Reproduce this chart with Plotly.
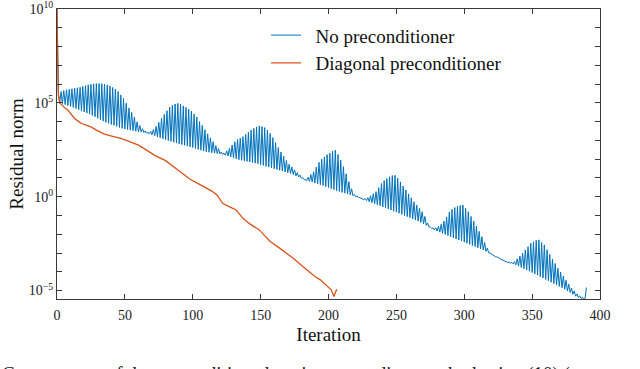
import plotly.graph_objects as go

# ---- data (log10 of residual norm) ----
# No preconditioner: even iterations 0,2,...,388
blue_log_even = [
    10.0, 5.0, 4.96, 4.91, 4.86, 4.81, 4.76, 4.7, 4.64, 4.58,
    4.52, 4.46, 4.4, 4.33, 4.26, 4.18, 4.1, 4.03, 3.96, 3.91,
    3.85, 3.8, 3.75, 3.69, 3.64, 3.61, 3.58, 3.55, 3.52, 3.49,
    3.46, 3.44, 3.42, 3.39, 3.36, 3.3, 3.25, 3.19, 3.14, 3.09,
    3.04, 2.99, 2.95, 2.9, 2.86, 2.82, 2.78, 2.74, 2.7, 2.66,
    2.62, 2.57, 2.52, 2.48, 2.43, 2.39, 2.37, 2.34, 2.32, 2.3,
    2.28, 2.26, 2.21, 2.17, 2.12, 2.07, 2.02, 1.97, 1.94, 1.91,
    1.88, 1.85, 1.82, 1.79, 1.76, 1.71, 1.67, 1.62, 1.58, 1.53,
    1.49, 1.45, 1.41, 1.37, 1.32, 1.28, 1.24, 1.18, 1.11, 1.05,
    0.98, 0.92, 0.87, 0.82, 0.78, 0.73, 0.69, 0.64, 0.6, 0.54,
    0.49, 0.43, 0.38, 0.32, 0.28, 0.23, 0.19, 0.14, 0.1, 0.05,
    0.0, -0.05, -0.09, -0.15, -0.21, -0.27, -0.32, -0.38, -0.43, -0.48,
    -0.54, -0.59, -0.65, -0.71, -0.77, -0.82, -0.88, -0.94, -1.0, -1.06,
    -1.12, -1.18, -1.24, -1.3, -1.37, -1.45, -1.53, -1.61, -1.69, -1.77,
    -1.83, -1.89, -1.95, -2.01, -2.07, -2.13, -2.19, -2.25, -2.31, -2.36,
    -2.42, -2.48, -2.54, -2.6, -2.66, -2.72, -2.78, -2.84, -2.91, -2.99,
    -3.06, -3.13, -3.21, -3.28, -3.36, -3.44, -3.5, -3.54, -3.58, -3.63,
    -3.7, -3.77, -3.84, -3.9, -3.97, -4.04, -4.11, -4.18, -4.26, -4.33,
    -4.41, -4.48, -4.56, -4.63, -4.71, -4.78, -4.85, -4.93, -5.02, -5.1,
    -5.2, -5.3, -5.37, -5.42, -5.46,
]
# No preconditioner: odd iterations 1,3,...,389
blue_log_odd = [
    5.55, 5.6, 5.65, 5.7, 5.72, 5.75, 5.78, 5.8, 5.83, 5.87,
    5.92, 5.96, 5.99, 6.01, 6.03, 6.03, 6.02, 6.0, 5.96, 5.9,
    5.82, 5.73, 5.6, 5.42, 5.23, 4.98, 4.73, 4.49, 4.24, 3.99,
    3.8, 3.62, 3.5, 3.42, 3.48, 3.58, 3.75, 3.96, 4.17, 4.38,
    4.58, 4.77, 4.87, 4.94, 4.97, 4.93, 4.84, 4.76, 4.66, 4.55,
    4.4, 4.24, 4.0, 3.8, 3.57, 3.35, 3.14, 2.93, 2.72, 2.56,
    2.38, 2.32, 2.44, 2.57, 2.75, 2.93, 3.05, 3.12, 3.2, 3.32,
    3.44, 3.55, 3.64, 3.72, 3.77, 3.74, 3.68, 3.55, 3.37, 3.15,
    2.88, 2.62, 2.38, 2.15, 1.93, 1.73, 1.58, 1.43, 1.28, 1.15,
    1.01, 0.9, 1.03, 1.18, 1.33, 1.58, 1.83, 2.0, 2.12, 2.24,
    2.32, 2.42, 2.48, 2.25, 1.95, 1.6, 1.22, 0.8, 0.42, 0.12,
    0.04, -0.05, -0.1, -0.1, -0.05, 0.05, 0.16, 0.27, 0.48, 0.7,
    0.86, 0.97, 1.06, 1.13, 1.14, 0.98, 0.79, 0.57, 0.36, 0.15,
    -0.06, -0.27, -0.45, -0.62, -0.8, -1.05, -1.4, -1.62, -1.67, -1.66,
    -1.58, -1.47, -1.3, -1.08, -0.82, -0.68, -0.58, -0.52, -0.47, -0.44,
    -0.62, -0.8, -1.05, -1.3, -1.56, -1.85, -2.13, -2.44, -2.74, -3.0,
    -3.12, -3.2, -3.27, -3.33, -3.4, -3.45, -3.48, -3.5, -3.46, -3.31,
    -3.16, -3.01, -2.84, -2.66, -2.48, -2.4, -2.32, -2.3, -2.44, -2.57,
    -2.82, -3.07, -3.32, -3.56, -3.81, -4.02, -4.23, -4.45, -4.66, -4.87,
    -5.02, -5.18, -5.28, -5.36, -5.42,
]
blue_last_iter = 390
blue_last_log = -4.84

# Diagonal preconditioner
orange_iter = [0, 1, 2, 4, 6, 8, 10, 13, 16, 18, 22, 25, 29, 35, 41, 47, 53, 60, 66,
               72, 80, 86, 90, 95, 98, 104, 110, 114, 118, 122, 126, 132, 137, 142,
               149, 157, 164, 170, 174, 180, 184, 190, 194, 198, 202, 204, 206]
orange_log = [10, 5.4, 5.0, 4.85, 4.72, 4.61, 4.45, 4.17, 4.0, 3.9, 3.8, 3.72, 3.55,
              3.33, 3.22, 3.11, 2.95, 2.75, 2.48, 2.2, 1.92, 1.6, 1.35, 1.08, 0.93,
              0.7, 0.45, 0.3, 0.08, -0.35, -0.5, -0.71, -1.15, -1.45, -1.77, -2.39,
              -2.74, -3.06, -3.28, -3.65, -3.9, -4.25, -4.43, -4.7, -4.96, -5.32, -4.93]

series_names = ["No preconditioner", "Diagonal preconditioner"]
x_ticks = [0, 50, 100, 150, 200, 250, 300, 350, 400]
y_decades = list(range(-5, 11))
y_labeled = {-5: "10<sup>\u22125</sup>", 0: "10<sup>0</sup>", 5: "10<sup>5</sup>", 10: "10<sup>10</sup>"}
caption = "Convergence of the preconditioned conjugate gradient method using (10) ("

# ---- build blue series by interleaving even/odd iterations ----
blue_iter, blue_log = [], []
for k in range(len(blue_log_even)):
    blue_iter.append(2 * k)
    blue_log.append(blue_log_even[k])
    if k < len(blue_log_odd):
        blue_iter.append(2 * k + 1)
        blue_log.append(blue_log_odd[k])
blue_iter.append(blue_last_iter)
blue_log.append(blue_last_log)

blue_val = [10 ** v for v in blue_log]
orange_val = [10 ** v for v in orange_log]

FONT = "Liberation Serif"
AXC = "#3a3a3a"
PAD = "\u00a0\u00a0"

fig = go.Figure()
fig.add_trace(go.Scatter(x=blue_iter, y=blue_val, mode="lines", name=PAD + series_names[0],
                         line=dict(color="#0072BD", width=1)))
fig.add_trace(go.Scatter(x=orange_iter, y=orange_val, mode="lines", name=PAD + series_names[1],
                         line=dict(color="#D95319", width=1.3)))

fig.update_layout(
    width=640, height=369,
    margin=dict(l=57, r=40, t=9, b=70, autoexpand=False),
    paper_bgcolor="white", plot_bgcolor="white",
    font=dict(family=FONT, color="#222222"),
    showlegend=True,
    legend=dict(x=0.385, y=0.975, xanchor="left", yanchor="top",
                bgcolor="rgba(0,0,0,0)", borderwidth=0,
                font=dict(family=FONT, size=19, color="#111111"),
                itemwidth=30, tracegroupgap=0),
    xaxis=dict(range=[0, 400], tickvals=x_ticks, ticks="inside", ticklen=5,
               tickcolor=AXC, showline=True, linecolor=AXC, linewidth=1, mirror="ticks",
               showgrid=False, zeroline=False, ticklabelstandoff=3,
               ticklabeloverflow="allow", automargin=False,
               tickfont=dict(family=FONT, size=14, color="#222222"),
               title=dict(text="Iteration", font=dict(family=FONT, size=19, color="#111111"),
                          standoff=5)),
    yaxis=dict(type="log", range=[-5.45, 10.0],
               tickmode="array",
               tickvals=[10 ** float(d) for d in y_decades],
               ticktext=[y_labeled.get(d, "") for d in y_decades],
               ticks="inside", ticklen=5, tickcolor=AXC,
               showline=True, linecolor=AXC, linewidth=1, mirror="ticks",
               showgrid=False, zeroline=False, ticklabeloverflow="allow",
               automargin=False,
               tickfont=dict(family=FONT, size=14, color="#222222"),
               title=dict(text="Residual norm", font=dict(family=FONT, size=19, color="#111111"),
                          standoff=0)),
)

fig.add_annotation(text=caption, xref="paper", yref="paper", x=-0.105, y=-0.215,
                   xanchor="left", yanchor="top", showarrow=False,
                   font=dict(family=FONT, size=19, color="#111111"))

fig.write_html("out.html", config={"displayModeBar": False},
               post_script="document.body.style.margin='0';")
